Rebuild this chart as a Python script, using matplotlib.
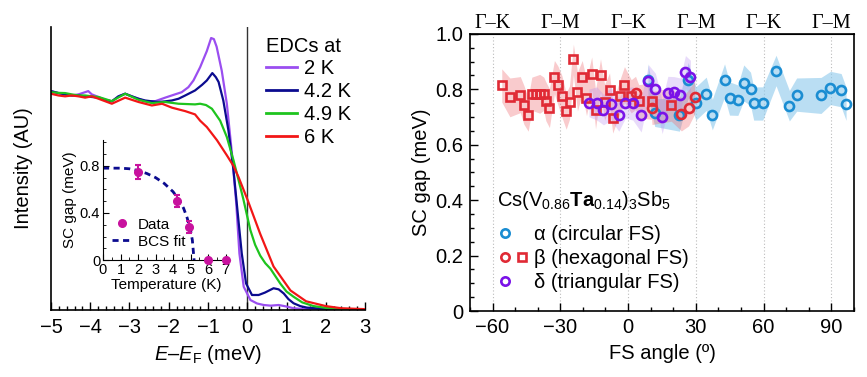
import numpy as np
import matplotlib.pyplot as plt
from matplotlib.lines import Line2D
from matplotlib.legend_handler import HandlerTuple
from matplotlib.ticker import MultipleLocator

plt.rcParams['font.family'] = ['Liberation Sans', 'DejaVu Sans']
plt.rcParams['mathtext.fontset'] = 'custom'
plt.rcParams['mathtext.rm'] = 'Liberation Sans'
plt.rcParams['mathtext.it'] = 'Liberation Sans:italic'
plt.rcParams['mathtext.bf'] = 'Liberation Sans:bold'

# ---- EDCs (energy in meV, intensity in AU) ----
e_2k = [-5.0, -4.81, -4.64, -4.47, -4.30, -4.05, -3.96, -3.79, -3.62, -3.45, -3.28, -3.11, -2.94,
        -2.77, -2.60, -2.34, -2.09, -1.84, -1.67, -1.50, -1.37, -1.20, -1.03, -0.92, -0.85, -0.78,
        -0.65, -0.52, -0.39, -0.28, -0.20, -0.09, 0.08, 0.25, 0.42, 0.60, 0.80, 1.00, 1.18, 1.50,
        2.0, 3.0]
i_2k = [1.006, 0.997, 0.991, 0.986, 0.991, 1.006, 0.991, 0.979, 0.966, 0.959, 0.982, 0.994, 0.982,
        0.971, 0.959, 0.960, 0.976, 0.991, 1.001, 1.024, 1.055, 1.116, 1.190, 1.250, 1.245, 1.210,
        1.100, 0.948, 0.719, 0.490, 0.260, 0.107, 0.046, 0.030, 0.023, 0.020, 0.023, 0.016, 0.008,
        0.004, 0.002, 0.001]

e_42k = [-5.0, -4.81, -4.64, -4.47, -4.30, -4.13, -3.96, -3.79, -3.62, -3.45, -3.28, -3.11, -2.94,
         -2.77, -2.60, -2.43, -2.26, -2.09, -1.92, -1.75, -1.58, -1.33, -1.15, -1.03, -0.89, -0.80,
         -0.73, -0.61, -0.48, -0.35, -0.25, -0.14, -0.03, 0.12, 0.29, 0.45, 0.67, 0.80, 0.93, 1.05,
         1.18, 1.35, 1.52, 2.0, 2.5, 3.0]
i_42k = [1.006, 0.997, 0.991, 0.986, 0.986, 0.982, 0.979, 0.976, 0.966, 0.959, 0.982, 0.994, 0.982,
         0.971, 0.963, 0.959, 0.956, 0.959, 0.963, 0.971, 0.986, 1.009, 1.035, 1.055, 1.089, 1.070,
         1.048, 0.963, 0.826, 0.642, 0.459, 0.260, 0.122, 0.069, 0.069, 0.080, 0.100, 0.095, 0.076,
         0.050, 0.031, 0.018, 0.011, 0.005, 0.003, 0.002]

e_49k = [-5.0, -4.81, -4.64, -4.47, -4.30, -4.13, -3.96, -3.79, -3.45, -3.11, -2.77, -2.43, -2.09,
         -1.75, -1.33, -1.20, -1.05, -0.90, -0.69, -0.52, -0.35, -0.22, -0.10, 0.0, 0.08, 0.20,
         0.33, 0.46, 0.59, 0.70, 0.84, 1.00, 1.18, 1.40, 1.69, 2.0, 2.37, 3.0]
i_49k = [1.001, 0.998, 0.997, 0.991, 0.986, 0.986, 0.982, 0.979, 0.960, 0.994, 0.966, 0.951, 0.956,
         0.948, 0.945, 0.948, 0.942, 0.925, 0.870, 0.795, 0.688, 0.596, 0.510, 0.430, 0.367, 0.300,
         0.250, 0.215, 0.190, 0.160, 0.122, 0.085, 0.061, 0.035, 0.018, 0.010, 0.005, 0.003]

e_6k = [-5.0, -4.81, -4.64, -4.47, -4.30, -4.13, -3.96, -3.79, -3.45, -3.11, -2.77, -2.43, -2.17,
        -1.92, -1.58, -1.33, -1.20, -1.03, -0.77, -0.52, -0.35, -0.22, 0.0, 0.33, 0.67, 1.10, 1.50,
        2.0, 2.4, 3.0]
i_6k = [0.994, 0.986, 0.982, 0.986, 0.982, 0.976, 0.982, 0.971, 0.948, 0.976, 0.956, 0.940, 0.948,
        0.930, 0.914, 0.899, 0.870, 0.841, 0.780, 0.711, 0.662, 0.610, 0.510, 0.350, 0.200, 0.090,
        0.040, 0.018, 0.008, 0.004]

edc_labels = ['2 K', '4.2 K', '4.9 K', '6 K']
edc_colors = ['#9a4ef0', '#0b0b8f', '#1ec41e', '#f21616']

# ---- inset: gap vs temperature ----
temp_data = [2.0, 4.2, 4.9, 6.0, 7.0]
gap_data = [0.75, 0.50, 0.28, 0.0, 0.0]
gap_err = [0.06, 0.05, 0.05, 0.0, 0.0]
temp_fit = [0, 1, 1.5, 2, 2.5, 3, 3.5, 4, 4.3, 4.6, 4.8, 5.0, 5.1, 5.2]
gap_fit = [0.78, 0.78, 0.775, 0.76, 0.735, 0.70, 0.65, 0.58, 0.52, 0.44, 0.36, 0.25, 0.17, 0.0]

# ---- SC gap vs FS angle ----
alpha_ang = [8.8, 11.8, 22.7, 26.6, 30.0, 34.6, 37.3, 42.7, 44.9, 48.6, 51.2, 54.2, 55.6, 59.6,
             65.5, 71.4, 74.6, 85.4, 89.6, 94.3, 96.5]
alpha_gap = [0.833, 0.716, 0.709, 0.832, 0.749, 0.784, 0.709, 0.832, 0.767, 0.761, 0.823, 0.802,
             0.749, 0.749, 0.868, 0.741, 0.781, 0.778, 0.805, 0.797, 0.748]
alpha_err = [0.06, 0.05, 0.06, 0.065, 0.06, 0.06, 0.055, 0.06, 0.06, 0.055, 0.065, 0.06, 0.06,
             0.06, 0.055, 0.055, 0.06, 0.065, 0.06, 0.06, 0.06]

beta_sq_ang = [-55.9, -52.3, -47.7, -46.1, -44.2, -42.6, -40.8, -39.1, -37.3, -36.4, -34.8, -32.6,
               -31.1, -29.3, -27.4, -25.9, -24.2, -22.4, -20.3, -18.4, -16.1, -14.4, -12.2, -10.4,
               -8.2, -6.8, -3.5, -1.6, 1.4, 4.7, 10.4, 19.1]
beta_sq_gap = [0.814, 0.771, 0.781, 0.744, 0.709, 0.784, 0.784, 0.784, 0.784, 0.757, 0.732, 0.844,
               0.815, 0.775, 0.721, 0.753, 0.908, 0.792, 0.844, 0.770, 0.857, 0.727, 0.850, 0.753,
               0.799, 0.697, 0.777, 0.817, 0.775, 0.757, 0.757, 0.745]
beta_sq_err = [0.06, 0.07, 0.065, 0.07, 0.06, 0.06, 0.065, 0.07, 0.06, 0.07, 0.07, 0.06,
               0.07, 0.075, 0.065, 0.06, 0.055, 0.07, 0.06, 0.065, 0.06, 0.07, 0.06, 0.065,
               0.06, 0.055, 0.06, 0.065, 0.06, 0.06, 0.065, 0.06]
beta_ci_ang = [3.3, 10.6, 23.6, 26.8, 29.5]
beta_ci_gap = [0.787, 0.733, 0.710, 0.733, 0.772]
beta_ci_err = [0.06, 0.06, 0.06, 0.065, 0.06]

delta_ang = [-17.3, -13.8, -10.9, -7.5, -4.1, -1.2, 2.1, 5.8, 9.0, 12.1, 15.1, 17.6, 20.3, 23.1,
             25.4, 27.6]
delta_gap = [0.751, 0.749, 0.727, 0.748, 0.709, 0.751, 0.749, 0.706, 0.829, 0.803, 0.700, 0.787,
             0.791, 0.781, 0.862, 0.845]
delta_err = [0.05, 0.06, 0.055, 0.06, 0.06, 0.055, 0.06, 0.06, 0.06, 0.055, 0.06, 0.06,
             0.055, 0.06, 0.06, 0.06]

dir_ticks = [-60, -30, 0, 30, 60, 90]
dir_labels = ['Γ–K', 'Γ–M', 'Γ–K', 'Γ–M', 'Γ–K', 'Γ–M']

c_alpha = '#1a8dd2'
c_beta = '#e02a35'
c_delta = '#7a12e8'
c_data = '#c8129e'

FS = 14.5

fig = plt.figure(figsize=(8.67, 3.77), dpi=100)

# ================= left panel =================
ax1 = fig.add_axes([0.0588, 0.1777, 0.3622, 0.7503])
for e, i, lab, col in zip([e_2k, e_42k, e_49k, e_6k], [i_2k, i_42k, i_49k, i_6k],
                          edc_labels, edc_colors):
    ax1.plot(e, i, color=col, lw=1.6, label=lab)
ax1.axvline(0, color='#333333', lw=1.0, zorder=0)
ax1.set_xlim(-5, 3)
ax1.set_ylim(0, 1.30)
ax1.spines['top'].set_visible(False)
ax1.spines['right'].set_visible(False)
ax1.spines['left'].set_linewidth(1.2)
ax1.spines['bottom'].set_linewidth(1.2)
ax1.set_yticks([])
ax1.xaxis.set_major_locator(MultipleLocator(1))
ax1.xaxis.set_minor_locator(MultipleLocator(0.2))
ax1.tick_params(axis='x', which='major', direction='in', length=6, width=1.0, labelsize=FS, pad=6)
ax1.tick_params(axis='x', which='minor', direction='in', length=3, width=1.0)
ax1.set_xlabel(r'$E$–$E_{\rm F}$ (meV)', fontsize=FS, labelpad=4)
ax1.set_ylabel('Intensity (AU)', fontsize=FS, labelpad=13)
leg1 = ax1.legend(title='EDCs at', loc='upper left', bbox_to_anchor=(0.66, 0.995), frameon=False,
                  fontsize=FS, title_fontsize=FS, handlelength=1.5, handletextpad=0.35,
                  labelspacing=0.19, borderaxespad=0.0)
leg1._legend_box.align = 'left'
for line in leg1.get_lines():
    line.set_linewidth(2.0)

# ---- inset ----
axi = fig.add_axes([0.1188, 0.310, 0.1465, 0.319])
axi.patch.set_alpha(0)
axi.plot(temp_fit, gap_fit, color='#0b0b8f', lw=2.0, ls=(0, (2.2, 1.6)))
axi.errorbar(temp_data, gap_data, yerr=gap_err, fmt='o', color=c_data, ms=5.5, elinewidth=1.5,
             capsize=2.5, capthick=1.5, clip_on=False, zorder=5)
axi.set_xlim(0, 7.25)
axi.set_ylim(0, 1.02)
axi.spines['top'].set_visible(False)
axi.spines['right'].set_visible(False)
axi.set_xticks(range(8))
axi.xaxis.set_minor_locator(MultipleLocator(0.5))
axi.set_yticks([0, 0.4, 0.8])
axi.set_yticklabels(['0', '0.4', '0.8'])
axi.yaxis.set_minor_locator(MultipleLocator(0.1))
axi.tick_params(which='major', direction='in', length=4, labelsize=10.5, pad=2)
axi.tick_params(which='minor', direction='in', length=2.5)
axi.set_xlabel('Temperature (K)', fontsize=11, labelpad=1)
axi.set_ylabel('SC gap (meV)', fontsize=11, labelpad=2)
h_data = Line2D([], [], ls='none', marker='o', color=c_data, ms=5.5)
h_fit = Line2D([], [], color='#0b0b8f', lw=2.0, ls=(0, (2.2, 1.6)))
axi.legend([h_data, h_fit], ['Data', 'BCS fit'], loc='lower left', bbox_to_anchor=(0.02, 0.045),
           frameon=False, fontsize=11, handlelength=1.3, handletextpad=0.4, labelspacing=0.2,
           borderaxespad=0)

# ================= right panel =================
ax2 = fig.add_axes([0.542, 0.175, 0.443, 0.735])


def band(ax, x, y, err, color, alpha):
    order = np.argsort(x)
    xs = np.asarray(x)[order]
    ys = np.asarray(y)[order]
    es = np.asarray(err)[order]
    ax.fill_between(xs, ys - es, ys + es, color=color, alpha=alpha, lw=0)


for t in dir_ticks:
    ax2.axvline(t, color='#bbbbbb', lw=0.8, ls=(0, (1, 2)), zorder=0)

band(ax2, alpha_ang, alpha_gap, alpha_err, '#8cc9ec', 0.6)
ax2.plot(alpha_ang, alpha_gap, 'o', mfc='none', mec=c_alpha, ms=6.5, mew=1.9)
band(ax2, beta_sq_ang + beta_ci_ang, beta_sq_gap + beta_ci_gap, beta_sq_err + beta_ci_err,
     '#ee6a70', 0.35)
ax2.plot(beta_sq_ang, beta_sq_gap, 's', mfc='none', mec=c_beta, ms=6.3, mew=1.9)
ax2.plot(beta_ci_ang, beta_ci_gap, 'o', mfc='none', mec=c_beta, ms=6.5, mew=1.9)
band(ax2, delta_ang, delta_gap, delta_err, '#b68af0', 0.3)
ax2.plot(delta_ang, delta_gap, 'o', mfc='none', mec=c_delta, ms=6.5, mew=1.9)

ax2.set_xlim(-70, 100)
ax2.set_ylim(0, 1.0)
ax2.xaxis.set_major_locator(MultipleLocator(30))
ax2.xaxis.set_minor_locator(MultipleLocator(10))
ax2.set_yticks([0, 0.2, 0.4, 0.6, 0.8, 1.0])
ax2.set_yticklabels(['0', '0.2', '0.4', '0.6', '0.8', '1.0'])
ax2.yaxis.set_minor_locator(MultipleLocator(0.05))
ax2.xaxis.set_major_formatter(plt.FuncFormatter(lambda v, p: f'{v:.0f}'.replace('-', '\u2212')))
ax2.tick_params(which='major', direction='in', length=6, width=1.0, labelsize=FS,
                top=False, right=False, pad=5)
ax2.tick_params(which='minor', direction='in', length=3, width=1.0, top=False, right=False)
for s in ax2.spines.values():
    s.set_linewidth(1.2)
ax2.set_xlabel('FS angle (º)', fontsize=FS, labelpad=5)
ax2.set_ylabel('SC gap (meV)', fontsize=FS, labelpad=3)

top = ax2.secondary_xaxis('top')
top.set_xticks(dir_ticks)
top.set_xticklabels(dir_labels, fontfamily='Liberation Serif', fontsize=FS)
top.tick_params(length=0, pad=1)

ax2.text(0.07, 0.40, r'Cs(V$_{0.86}$$\mathbf{Ta}$$_{0.14}$)$_3$Sb$_5$', transform=ax2.transAxes,
         fontsize=FS, ha='left', va='center')
blank = Line2D([], [], ls='none', marker='')
h_a = Line2D([], [], ls='none', marker='o', mfc='none', mec=c_alpha, ms=6, mew=1.9)
h_bc = Line2D([], [], ls='none', marker='o', mfc='none', mec=c_beta, ms=6, mew=1.9)
h_bs = Line2D([], [], ls='none', marker='s', mfc='none', mec=c_beta, ms=6, mew=1.9)
h_d = Line2D([], [], ls='none', marker='o', mfc='none', mec=c_delta, ms=6, mew=1.9)
ax2.legend([(h_a, blank), (h_bc, h_bs), (h_d, blank)],
           ['α (circular FS)', 'β (hexagonal FS)', 'δ (triangular FS)'],
           handler_map={tuple: HandlerTuple(ndivide=None, pad=0.25)},
           loc='lower left', bbox_to_anchor=(0.055, 0.04), frameon=False,
           fontsize=FS, handlelength=1.45, handletextpad=0.3,
           labelspacing=0.25, borderaxespad=0)

fig.savefig('out.png', dpi=100)
